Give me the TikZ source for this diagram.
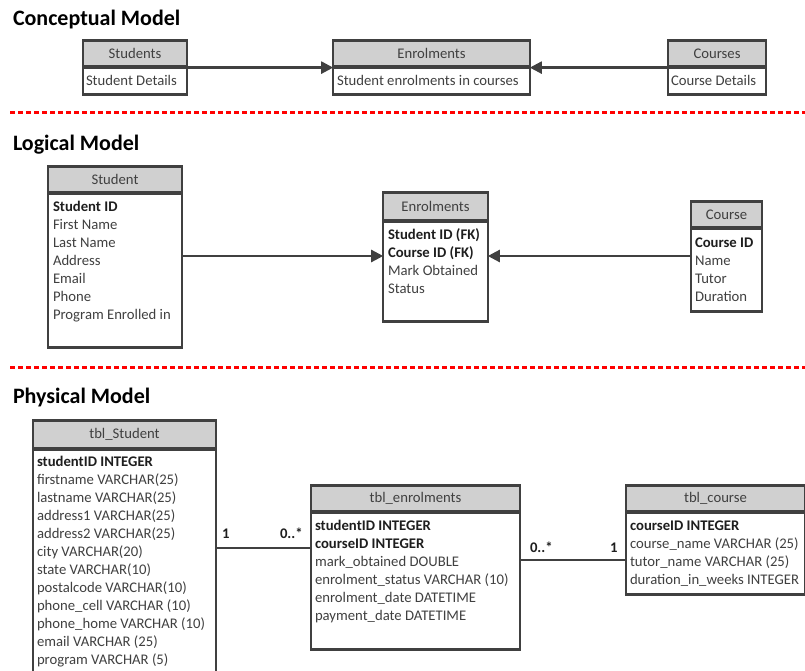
\documentclass[tikz,border=0pt]{standalone}
\usepackage{fontspec}
\setmainfont{Carlito}
\usetikzlibrary{arrows.meta}

\definecolor{edge}{HTML}{404040}
\definecolor{hdrfill}{HTML}{D0D0D0}
\definecolor{txt}{HTML}{404040}
\definecolor{keytxt}{HTML}{1E1E1E}
\definecolor{cut}{HTML}{FF0000}

\tikzset{
  x=1pt, y=-1pt,
  every node/.style={inner sep=0pt, outer sep=0pt},
  hdr/.style={draw=edge, line width=2.4pt, fill=hdrfill, text=txt,
    font=\fontsize{14.7}{18}\selectfont},
  bodybox/.style={draw=edge, line width=2.4pt, fill=white},
  field/.style={anchor=base west, yshift=-4.7pt, text=txt,
    font=\fontsize{14.7}{18}\selectfont},
  keyfield/.style={field, text=keytxt, font=\fontsize{14.7}{18}\selectfont\bfseries},
  mult/.style={anchor=base west, yshift=-4.7pt, text=keytxt,
    font=\fontsize{14.7}{18}\selectfont\bfseries},
  sectiontitle/.style={anchor=base west, text=black,
    font=\fontsize{22}{26}\selectfont\bfseries},
  link/.style={draw=edge, line width=2.4pt},
  arr/.style={link, -{Triangle[length=12pt, width=12pt]}},
  divider/.style={draw=cut, line width=3pt, dash pattern=on 5pt off 3pt},
}

% entity box: name, left, top, right, header bottom, bottom, title
\newcommand\entity[7]{%
  \node[hdr, minimum width={#4-#2-2.4}, minimum height={#5-#3-1.2}]
    (#1-h) at ({(#2+#4)/2},{(#3+#5)/2}) {#7};
  \node[bodybox, minimum width={#4-#2-2.4}, minimum height={#6-#5-1.2}]
    (#1) at ({(#2+#4)/2},{(#5+#6)/2}) {};
  \draw[draw=edge, line width=2.4pt] ({#2+1.2},#5) -- ({#4-1.2},#5);
}

\begin{document}
\begin{tikzpicture}
\useasboundingbox (0,0) rectangle (805,670);
\clip (0,0) rectangle (805,670);
\fill[white] (0,0) rectangle (805,670);

% ---------- conceptual model ----------
\node[sectiontitle] (t1) at (13,25) {Conceptual Model};

\entity{stu}{82}{40}{188}{67}{95}{Students}
\entity{enr}{332}{40}{531}{67}{95}{Enrolments}
\entity{crs}{667}{40}{767}{67}{95}{Courses}
\node[field] (stu-1) at (86,81) {Student Details};
\node[field] (enr-1) at (337,81) {Student enrolments in courses};
\node[field] (crs-1) at (671,81) {Course Details};

\draw[arr] (stu.north east) -- (enr.north west);
\draw[arr] (crs.north west) -- (enr.north east);

\draw[divider] (10,112) -- (805,112);

% ---------- logical model ----------
\node[sectiontitle] (t2) at (13,150) {Logical Model};

\entity{lstu}{47}{166}{183}{193}{348}{Student}
\node[keyfield] (lstu-0) at (53,207) {Student ID};
\foreach \t [count=\i] in {First Name, Last Name, Address, Email, Phone, Program Enrolled in}
  \node[field] (lstu-\i) at (53,{207+18*\i}) {\t};

\entity{lenr}{382}{192}{489}{221}{322}{Enrolments}
\node[keyfield] (lenr-0) at (388,235) {Student ID (FK)};
\node[keyfield] (lenr-1) at (388,253) {Course ID (FK)};
\node[field] (lenr-2) at (388,271) {Mark Obtained};
\node[field] (lenr-3) at (388,289) {Status};

\entity{lcrs}{690}{201}{763}{228}{312}{Course}
\node[keyfield] (lcrs-0) at (695,243) {Course ID};
\foreach \t [count=\i] in {Name, Tutor, Duration}
  \node[field] (lcrs-\i) at (695,{243+18*\i}) {\t};

\draw[arr] (lstu.east |- 0,256) -- (lenr.west |- 0,256);
\draw[arr] (lcrs.west |- 0,256) -- (lenr.east |- 0,256);

\draw[divider] (10,367) -- (805,367);

% ---------- physical model ----------
\node[sectiontitle] (t3) at (13,403) {Physical Model};

\entity{pstu}{32}{420}{217}{449}{690}{tbl\_Student}
\node[keyfield] (pstu-0) at (37,462) {studentID INTEGER};
\foreach \t [count=\i] in {firstname VARCHAR(25), lastname VARCHAR(25),
    address1 VARCHAR(25), address2 VARCHAR(25), city VARCHAR(20),
    state VARCHAR(10), postalcode VARCHAR(10), phone\_cell VARCHAR (10),
    phone\_home VARCHAR (10), email VARCHAR (25), program VARCHAR (5)}
  \node[field] (pstu-\i) at (37,{462+18*\i}) {\t};

\entity{penr}{310}{485}{521}{512}{650}{tbl\_enrolments}
\node[keyfield] (penr-0) at (315,526) {studentID INTEGER};
\node[keyfield] (penr-1) at (315,544) {courseID INTEGER};
\foreach \t [count=\i from 2] in {mark\_obtained DOUBLE,
    enrolment\_status VARCHAR (10), enrolment\_date DATETIME,
    payment\_date DATETIME}
  \node[field] (penr-\i) at (315,{526+18*\i}) {\t};

\entity{pcrs}{625}{485}{806}{512}{595}{tbl\_course}
\node[keyfield] (pcrs-0) at (630,526) {courseID INTEGER};
\foreach \t [count=\i] in {course\_name VARCHAR (25), tutor\_name VARCHAR (25),
    duration\_in\_weeks INTEGER}
  \node[field] (pcrs-\i) at (630,{526+18*\i}) {\t};

\draw[link] (pstu.east |- 0,548) -- (penr.west |- 0,548);
\node[mult] (m1) at (222,534) {1};
\node[mult] (m2) at (280,534) {0..*};

\draw[link] (penr.east |- 0,560) -- (pcrs.west |- 0,560);
\node[mult] (m3) at (530,548) {0..*};
\node[mult] (m4) at (610,548) {1};
\end{tikzpicture}
\end{document}
